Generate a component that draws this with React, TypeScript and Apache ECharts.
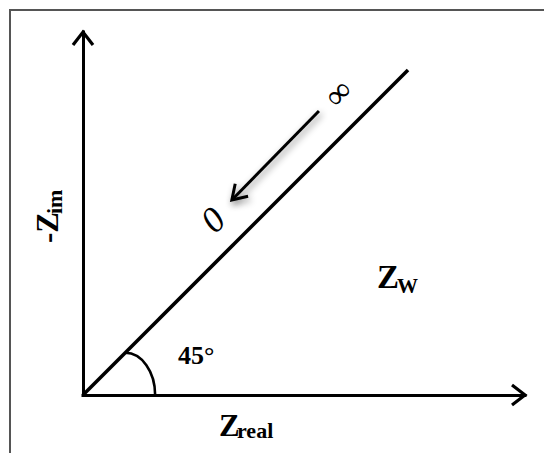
import React, { useEffect, useRef } from "react";
import * as echarts from "echarts";

// Axis extents (Z_real horizontally, -Z_im vertically)
const xRange = [0, 13.6];
const yRange = [0, 11.17];

// Warburg element: straight line at 45° from the origin
const warburgLine = [
  [0, 0],
  [10, 10],
];

// Frequency direction arrow, from [x1, y1] to [x2, y2]
const frequencyArrow = [[7.26, 8.74, 4.58, 6.0]];

// Axis arrowheads, drawn at the far end of each axis
const axisEnds = [
  [0, 0, 13.6, 0],
  [0, 0, 0, 11.17],
];

// Angle marker: origin of the 45° arc
const angleOrigin = [[0, 0]];

const angleText = "45°";
const highFreqText = "∞";
const lowFreqText = "0";

const SERIF = "'Liberation Serif', 'DejaVu Serif', serif";

function chevron(tip: number[], from: number[], back: number, spread: number) {
  const dx = tip[0] - from[0];
  const dy = tip[1] - from[1];
  const len = Math.hypot(dx, dy) || 1;
  const ux = dx / len;
  const uy = dy / len;
  const px = -uy;
  const py = ux;
  return [
    [tip[0] - ux * back + px * spread, tip[1] - uy * back + py * spread],
    [tip[0], tip[1]],
    [tip[0] - ux * back - px * spread, tip[1] - uy * back - py * spread],
  ];
}

export default function App() {
  const ref = useRef<HTMLDivElement>(null);

  useEffect(() => {
    if (!ref.current) return;
    const chart = echarts.init(ref.current, undefined, { renderer: "svg" });

    const option: any = {
      animation: false,
      backgroundColor: "#ffffff",
      grid: { left: 83, right: 19, top: 32, bottom: 58, containLabel: false },
      xAxis: {
        type: "value",
        min: xRange[0],
        max: xRange[1],
        axisLine: { show: true, onZero: false, lineStyle: { color: "#000", width: 3, cap: "square" } },
        axisTick: { show: false },
        axisLabel: { show: false },
        splitLine: { show: false },
      },
      yAxis: {
        type: "value",
        min: yRange[0],
        max: yRange[1],
        axisLine: { show: true, onZero: false, lineStyle: { color: "#000", width: 3, cap: "square" } },
        axisTick: { show: false },
        axisLabel: { show: false },
        splitLine: { show: false },
      },
      series: [
        {
          type: "line",
          data: warburgLine,
          showSymbol: false,
          symbol: "none",
          lineStyle: { color: "#000", width: 3.6 },
          silent: true,
        },
        {
          type: "custom",
          clip: false,
          silent: true,
          data: axisEnds,
          renderItem: (_p: any, api: any) => {
            const a = api.coord([api.value(0), api.value(1)]);
            const b = api.coord([api.value(2), api.value(3)]);
            return {
              type: "polyline",
              shape: { points: chevron(b, a, 13, 10) },
              style: { stroke: "#000", lineWidth: 3.2, fill: "none", lineJoin: "miter" },
            };
          },
        },
        {
          type: "custom",
          clip: false,
          silent: true,
          data: frequencyArrow,
          renderItem: (_p: any, api: any) => {
            const a = api.coord([api.value(0), api.value(1)]);
            const b = api.coord([api.value(2), api.value(3)]);
            const shade = {
              stroke: "#000",
              lineWidth: 3,
              fill: "none",
              shadowBlur: 7,
              shadowColor: "rgba(0,0,0,0.45)",
              shadowOffsetX: 2,
              shadowOffsetY: 3,
            };
            return {
              type: "group",
              children: [
                { type: "line", shape: { x1: a[0], y1: a[1], x2: b[0], y2: b[1] }, style: shade },
                {
                  type: "polyline",
                  shape: { points: chevron(b, a, 14, 9) },
                  style: { ...shade, lineJoin: "miter" },
                },
              ],
            };
          },
        },
        {
          type: "custom",
          clip: false,
          silent: true,
          data: angleOrigin,
          renderItem: (_p: any, api: any) => {
            const ox = api.value(0);
            const oy = api.value(1);
            // quarter ellipse between the diagonal and the real axis
            const cx = ox + 1.3;
            const rx = 0.92;
            const ry = 1.3;
            const k = 0.5523;
            const s = api.coord([cx, oy + ry]);
            const c1 = api.coord([cx + rx * k, oy + ry]);
            const c2 = api.coord([cx + rx, oy + ry * k]);
            const e = api.coord([cx + rx, oy]);
            return {
              type: "bezierCurve",
              shape: {
                x1: s[0], y1: s[1],
                cpx1: c1[0], cpy1: c1[1],
                cpx2: c2[0], cpy2: c2[1],
                x2: e[0], y2: e[1],
              },
              style: { stroke: "#000", lineWidth: 2.6, fill: "none" },
            };
          },
        },
      ],
      graphic: [
        {
          type: "rect",
          silent: true,
          z: -1,
          shape: { x: 10, y: 10, width: 600, height: 500 },
          style: { fill: "none", stroke: "#555", lineWidth: 2 },
        },
        // -Z_im (vertical axis title)
        {
          type: "text",
          x: 47,
          y: 243,
          rotation: Math.PI / 2,
          style: {
            text: "-Z",
            font: `bold 31px ${SERIF}`,
            fill: "#000",
            align: "left",
            verticalAlign: "middle",
          },
        },
        {
          type: "text",
          x: 54,
          y: 214,
          rotation: Math.PI / 2,
          style: {
            text: "im",
            font: `bold 22px ${SERIF}`,
            fill: "#000",
            align: "left",
            verticalAlign: "middle",
          },
        },
        // Z_real (horizontal axis title)
        {
          type: "text",
          x: 219,
          y: 425,
          style: { text: "Z", font: `bold 31px ${SERIF}`, fill: "#000", align: "left", verticalAlign: "middle" },
        },
        {
          type: "text",
          x: 237,
          y: 430,
          style: { text: "real", font: `bold 22px ${SERIF}`, fill: "#000", align: "left", verticalAlign: "middle" },
        },
        // Z_W
        {
          type: "text",
          x: 377,
          y: 277,
          style: { text: "Z", font: `bold 33px ${SERIF}`, fill: "#000", align: "left", verticalAlign: "middle" },
        },
        {
          type: "text",
          x: 397,
          y: 286,
          style: { text: "W", font: `bold 21px ${SERIF}`, fill: "#000", align: "left", verticalAlign: "middle" },
        },
        // angle
        {
          type: "text",
          x: 178,
          y: 355,
          style: { text: angleText, font: `bold 26px ${SERIF}`, fill: "#000", align: "left", verticalAlign: "middle" },
        },
        // frequency limits along the arrow
        {
          type: "text",
          x: 338,
          y: 93,
          rotation: Math.PI / 4,
          style: { text: highFreqText, font: `34px ${SERIF}`, fill: "#000", align: "center", verticalAlign: "middle" },
        },
        {
          type: "text",
          x: 213,
          y: 220,
          rotation: Math.PI / 4,
          style: { text: lowFreqText, font: `italic 36px ${SERIF}`, fill: "#000", align: "center", verticalAlign: "middle" },
        },
      ],
    };

    chart.setOption(option);
    return () => chart.dispose();
  }, []);

  return (
    <div
      ref={ref}
      style={{ position: "fixed", left: 0, top: 0, width: 544, height: 453, background: "#fff" }}
    />
  );
}
